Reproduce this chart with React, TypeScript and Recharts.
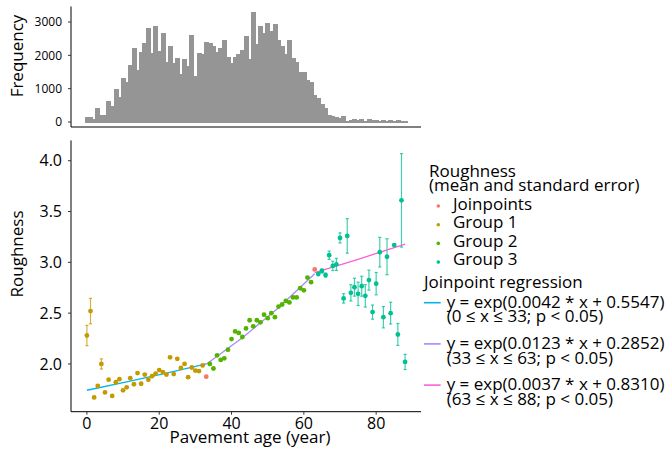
import React from 'react';
import { ComposedChart, Bar, XAxis, YAxis, Scatter, ErrorBar, Line } from 'recharts';

// Histogram: frequency per pavement age (years 0..88)
const histFreq = [
  140, 130, 90, 420, 210, 210, 630, 480, 990, 750,
  1320, 1200, 1710, 2220, 1560, 2100, 2370, 2820, 2070, 2880,
  2130, 2670, 1800, 2280, 1770, 1920, 1440, 1890, 1680, 2610,
  1380, 2070, 2040, 2400, 2370, 2280, 2100, 2220, 2460, 1950,
  1770, 1950, 2040, 2160, 2580, 1890, 3300, 2340, 2880, 2670,
  2970, 2730, 2940, 2460, 2280, 2040, 2460, 1920, 1800, 1500,
  1500, 1260, 1200, 810, 720, 540, 420, 210, 180, 150,
  120, 180, 30, 60, 90, 60, 90, 30, 90, 60,
  60, 30, 60, 15, 60, 15, 60, 15, 30,
];
const histTicksY = [0, 1000, 2000, 3000];
const ageTicks = [0, 20, 40, 60, 80];
const roughTicks = [2.0, 2.5, 3.0, 3.5, 4.0];

// Group 1: ages 0..32
const group1Start = 0;
const group1Mean = [
  2.28, 2.52, 1.67, 1.785, 2.0, 1.72, 1.845, 1.685, 1.82, 1.85,
  1.74, 1.77, 1.86, 1.8, 1.91, 1.805, 1.895, 1.845, 1.88, 1.905,
  1.94, 1.92, 1.895, 2.065, 1.9, 2.05, 1.96, 2.0, 1.87, 1.965,
  1.935, 1.93, 1.985,
];
const group1SE = [
  0.1, 0.125, 0.01, 0.01, 0.05, 0.01, 0.01, 0.01, 0.01, 0.01,
  0.01, 0.01, 0.01, 0.01, 0.01, 0.01, 0.01, 0.01, 0.01, 0.01,
  0.01, 0.01, 0.01, 0.01, 0.01, 0.01, 0.01, 0.01, 0.01, 0.01,
  0.01, 0.01, 0.01,
];

// Group 2: ages 34..62
const group2Start = 34;
const group2Mean = [
  2.0, 1.955, 2.085, 2.04, 2.055, 2.14, 2.245, 2.32, 2.305, 2.265,
  2.35, 2.43, 2.37, 2.43, 2.41, 2.485, 2.45, 2.5, 2.46, 2.565,
  2.585, 2.62, 2.605, 2.655, 2.655, 2.745, 2.725, 2.85, 2.805,
];
const group2SE = [
  0.01, 0.01, 0.01, 0.01, 0.01, 0.01, 0.01, 0.01, 0.01, 0.01,
  0.01, 0.01, 0.01, 0.01, 0.01, 0.01, 0.01, 0.01, 0.01, 0.01,
  0.01, 0.01, 0.01, 0.01, 0.01, 0.01, 0.01, 0.01, 0.01,
];

// Group 3: ages 64..88
const group3Start = 64;
const group3Mean = [
  2.885, 2.915, 2.875, 3.07, 2.965, 2.98, 3.24, 2.645, 3.26, 2.7,
  2.755, 2.69, 2.765, 2.67, 2.825, 2.51, 2.79, 3.1, 2.46, 3.055,
  2.5, 3.17, 2.29, 3.61, 2.02,
];
const group3SE = [
  0.015, 0.02, 0.02, 0.041, 0.046, 0.06, 0.05, 0.046, 0.17, 0.08,
  0.088, 0.115, 0.098, 0.11, 0.098, 0.07, 0.11, 0.146, 0.105, 0.177,
  0.107, 0.01, 0.108, 0.46, 0.075,
];

// Joinpoints
const joinAges = [33, 63];
const joinMean = [1.875, 2.93];
const joinSE = [0.01, 0.01];

// Joinpoint regression segments
const reg1X = [0, 11, 22, 33];
const reg1Y = [1.741, 1.823, 1.909, 2.0];
const reg2X = [33, 43, 53, 63];
const reg2Y = [1.996, 2.257, 2.553, 2.887];
const reg3X = [63, 75, 88];
const reg3Y = [2.898, 3.03, 3.179];

const legendLabels = [
  ['y = exp(0.0042 * x + 0.5547)', '(0 ≤ x ≤ 33; p < 0.05)'],
  ['y = exp(0.0123 * x + 0.2852)', '(33 ≤ x ≤ 63; p < 0.05)'],
  ['y = exp(0.0037 * x + 0.8310)', '(63 ≤ x ≤ 88; p < 0.05)'],
];
const groupLabels = ['Joinpoints', 'Group 1', 'Group 2', 'Group 3'];

const C_JOIN = '#F8766D';
const C_G1 = '#C49A00';
const C_G2 = '#53B400';
const C_G3 = '#00C094';
const C_R1 = '#00B6EB';
const C_R2 = '#A58AFF';
const C_R3 = '#FB61D7';
const groupColors = [C_JOIN, C_G1, C_G2, C_G3];
const regColors = [C_R1, C_R2, C_R3];

const histData = histFreq.map((f, i) => ({ x: i, f }));
const mk = (start: number, mean: number[], se: number[]) =>
  mean.map((y, i) => ({ x: start + i, y, se: se[i] }));
const g1 = mk(group1Start, group1Mean, group1SE);
const g2 = mk(group2Start, group2Mean, group2SE);
const g3 = mk(group3Start, group3Mean, group3SE);
const jp = joinAges.map((x, i) => ({ x, y: joinMean[i], se: joinSE[i] }));
const line = (xs: number[], ys: number[]) => xs.map((x, i) => ({ x, y: ys[i] }));
const r1 = line(reg1X, reg1Y);
const r2 = line(reg2X, reg2Y);
const r3 = line(reg3X, reg3Y);

const X_DOMAIN: [number, number] = [-4.4, 92.4];
const FONT = '"Open Sans", "Noto Sans", sans-serif';
const HIST_FILL = '#959595';

const dot = (color: string) => (p: any) => (
  <circle cx={p.cx} cy={p.cy} r={2.4} fill={color} />
);

export default function App() {
  return (
    <div
      style={{
        position: 'absolute',
        left: 0,
        top: 0,
        width: 669,
        height: 451,
        background: '#fff',
        fontFamily: FONT,
        overflow: 'hidden',
      }}
    >
      <div style={{ position: 'absolute', left: 0, top: 0 }}>
        <ComposedChart
          width={669}
          height={135}
          data={histData}
          margin={{ top: 6.5, right: 248, bottom: 0, left: 9 }}
          barCategoryGap={0}
          barGap={0}
        >
          <XAxis
            dataKey="x"
            type="number"
            domain={X_DOMAIN}
            ticks={ageTicks}
            allowDataOverflow
            tick={false}
            tickSize={3}
            height={8}
            axisLine={{ stroke: '#000', strokeWidth: 1 }}
            tickLine={{ stroke: '#333' }}
          />
          <YAxis
            type="number"
            domain={[-150, 3465]}
            ticks={histTicksY}
            allowDataOverflow
            width={62}
            tickSize={3}
            tickMargin={6}
            tick={{ fontSize: 12, fill: '#000', fontFamily: FONT }}
            axisLine={{ stroke: '#000', strokeWidth: 1 }}
            tickLine={{ stroke: '#333' }}
          />
          <Bar
            dataKey="f"
            fill={HIST_FILL}
            stroke={HIST_FILL}
            strokeWidth={1}
            shapeRendering="crispEdges"
            isAnimationActive={false}
          />
        </ComposedChart>
      </div>

      <div style={{ position: 'absolute', left: 0, top: 0 }}>
        <ComposedChart
          width={669}
          height={451}
          margin={{ top: 140.4, right: 248, bottom: 0, left: 9 }}
        >
          <XAxis
            dataKey="x"
            type="number"
            domain={X_DOMAIN}
            ticks={ageTicks}
            allowDataOverflow
            height={39.3}
            tickSize={3}
            tickMargin={3}
            tick={{ fontSize: 16, fill: '#000', fontFamily: FONT }}
            axisLine={{ stroke: '#000', strokeWidth: 1 }}
            tickLine={{ stroke: '#333' }}
          />
          <YAxis
            dataKey="y"
            type="number"
            domain={[1.53, 4.2]}
            ticks={roughTicks}
            allowDataOverflow
            width={62}
            tickSize={3}
            tickMargin={6}
            tickFormatter={(v: number) => v.toFixed(1)}
            tick={{ fontSize: 16, fill: '#000', fontFamily: FONT }}
            axisLine={{ stroke: '#000', strokeWidth: 1 }}
            tickLine={{ stroke: '#333' }}
          />
          <Scatter data={g1} dataKey="y" fill={C_G1} shape={dot(C_G1)} isAnimationActive={false}>
            <ErrorBar dataKey="se" direction="y" width={1.6} stroke={C_G1} strokeOpacity={0.75} strokeWidth={1.2} />
          </Scatter>
          <Scatter data={g2} dataKey="y" fill={C_G2} shape={dot(C_G2)} isAnimationActive={false}>
            <ErrorBar dataKey="se" direction="y" width={1.6} stroke={C_G2} strokeOpacity={0.75} strokeWidth={1.2} />
          </Scatter>
          <Scatter data={g3} dataKey="y" fill={C_G3} shape={dot(C_G3)} isAnimationActive={false}>
            <ErrorBar dataKey="se" direction="y" width={1.6} stroke={C_G3} strokeOpacity={0.75} strokeWidth={1.2} />
          </Scatter>
          <Line data={r1} dataKey="y" stroke={C_R1} strokeWidth={1.3} dot={false} activeDot={false} isAnimationActive={false} type="linear" />
          <Line data={r2} dataKey="y" stroke={C_R2} strokeWidth={1.3} dot={false} activeDot={false} isAnimationActive={false} type="linear" />
          <Line data={r3} dataKey="y" stroke={C_R3} strokeWidth={1.3} dot={false} activeDot={false} isAnimationActive={false} type="linear" />
          <Scatter data={jp} dataKey="y" fill={C_JOIN} shape={dot(C_JOIN)} isAnimationActive={false} />
        </ComposedChart>
      </div>

      <svg
        width={669}
        height={451}
        style={{ position: 'absolute', left: 0, top: 0, pointerEvents: 'none' }}
        fontFamily={FONT}
      >
        <text transform="translate(23,56) rotate(-90)" textAnchor="middle" fontSize={17} fill="#000">
          Frequency
        </text>
        <text transform="translate(23,254) rotate(-90)" textAnchor="middle" fontSize={17} fill="#000">
          Roughness
        </text>
        <text x={250} y={443} textAnchor="middle" fontSize={17} fill="#000">
          Pavement age (year)
        </text>

        <text x={429} y={176.7} fontSize={17} fill="#000">Roughness</text>
        <text x={429} y={190.9} fontSize={17} fill="#000">(mean and standard error)</text>
        {groupLabels.map((g, i) => (
          <g key={g}>
            <circle cx={438.3} cy={206 + i * 18.7} r={1.8} fill={groupColors[i]} />
            <text x={453} y={209.6 + i * 18.6} fontSize={17} fill="#000">{g}</text>
          </g>
        ))}
        <text x={424} y={288.3} fontSize={17} fill="#000">Joinpoint regression</text>
        {legendLabels.map((lab, i) => (
          <g key={i}>
            <line x1={424} x2={440.7} y1={302.7 + i * 41.2} y2={302.7 + i * 41.2} stroke={regColors[i]} strokeWidth={1.6} />
            <text x={446.7} y={307.8 + i * 41.3} fontSize={17} fill="#000">{lab[0]}</text>
            <text x={446.7} y={322.3 + i * 41.3} fontSize={17} fill="#000">{lab[1]}</text>
          </g>
        ))}
      </svg>
    </div>
  );
}
